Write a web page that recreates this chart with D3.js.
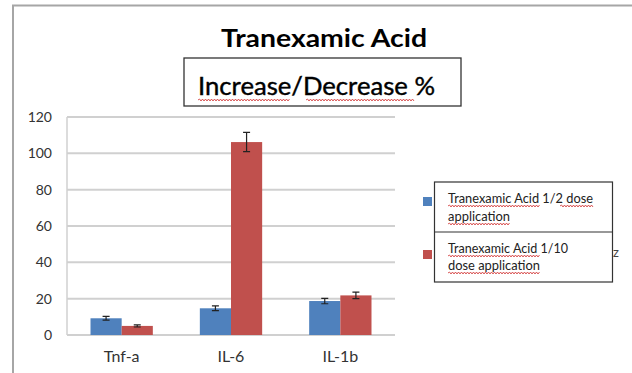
<!DOCTYPE html>
<html><head><meta charset="utf-8">
<script src="https://cdn.jsdelivr.net/npm/d3@7/dist/d3.min.js"></script>
<style>body{margin:0;background:#fff;}svg{display:block;}</style>
</head><body>
<svg id="c" width="632" height="373"></svg>
<script>
const categories = ["Tnf-a", "IL-6", "IL-1b"];
const seriesNames = ["Tranexamic Acid 1/2 dose application", "Tranexamic Acid 1/10 dose application"];
const halfDose = [9.2, 14.7, 18.7];
const tenthDose = [5.0, 106.2, 21.8];
const halfDoseErr = [1.0, 1.3, 1.5];
const tenthDoseErr = [0.6, 5.3, 1.8];
const yTicks = [0, 20, 40, 60, 80, 100, 120];
const legendLines = [["Tranexamic Acid 1/2 dose", "application"], ["Tranexamic Acid 1/10", "dose application"]];
const colors = ["#4F81BD", "#C0504D"];

const svg = d3.select("#c");
const font = "Lato, 'Liberation Sans', sans-serif";

// outer frame
svg.append("path").attr("d", "M13,373 V5.5 H632").attr("fill", "none").attr("stroke", "#a6a6a6").attr("stroke-width", 2);

const L = 67, R = 395, T = 117, B = 335;
const y = d3.scaleLinear().domain([0, 120]).range([B, T]);
const x0 = d3.scaleBand().domain(categories).range([L, R]);
const x1 = d3.scaleBand().domain([0, 1]).range([x0.bandwidth() * 0.215, x0.bandwidth() * 0.785]);

// gridlines
svg.append("g").selectAll("line").data(yTicks).join("line")
  .attr("x1", L).attr("x2", R).attr("y1", d => y(d)).attr("y2", d => y(d))
  .attr("stroke", "#d0d0d0").attr("stroke-width", 2);
// left axis line
svg.append("line").attr("x1", L).attr("x2", L).attr("y1", T).attr("y2", B).attr("stroke", "#d0d0d0").attr("stroke-width", 1.5);

// y axis labels
const yAxis = d3.axisLeft(y).tickValues(yTicks).tickSize(0).tickPadding(15);
const gy = svg.append("g").attr("transform", `translate(${L},0)`).call(yAxis);
gy.select(".domain").remove();
gy.selectAll("text").attr("font-family", font).attr("font-size", 14).attr("fill", "#333");

// x axis labels
const xAxis = d3.axisBottom(x0).tickSize(0).tickPadding(16);
const gx = svg.append("g").attr("transform", `translate(0,${B})`).call(xAxis);
gx.select(".domain").remove();
gx.selectAll("text").attr("font-family", font).attr("font-size", 16).attr("fill", "#333");

// bars
const data = [];
categories.forEach((c, i) => {
  data.push({c, s: 0, v: halfDose[i], e: halfDoseErr[i]});
  data.push({c, s: 1, v: tenthDose[i], e: tenthDoseErr[i]});
});
svg.append("g").selectAll("rect").data(data).join("rect")
  .attr("x", d => x0(d.c) + x1(d.s)).attr("width", x1.bandwidth())
  .attr("y", d => y(d.v)).attr("height", d => B - y(d.v))
  .attr("fill", d => colors[d.s]);

// error bars
const eg = svg.append("g").attr("stroke", "#222").attr("stroke-width", 1.2).attr("fill", "none");
eg.selectAll("path").data(data).join("path")
  .attr("d", d => {
    const cx = x0(d.c) + x1(d.s) + x1.bandwidth() / 2;
    const t = y(d.v + d.e), b = y(d.v - d.e), w = 3.5;
    return `M${cx - w},${t}H${cx + w}M${cx},${t}V${b}M${cx - w},${b}H${cx + w}`;
  });

// wavy underline helper
function wavy(x1p, x2p, yp) {
  let d = `M${x1p},${yp}`;
  let up = true;
  for (let xx = x1p + 1.5; xx <= x2p; xx += 1.5) { d += `L${xx},${yp + (up ? -1 : 1)}`; up = !up; }
  svg.append("path").attr("d", d).attr("fill", "none").attr("stroke", "#d03030").attr("stroke-width", 0.8);
}

// title
svg.append("text").attr("x", 221).attr("y", 47).attr("font-family", font).attr("font-weight", "bold")
  .attr("font-size", 25).attr("fill", "#000").attr("textLength", 206).attr("lengthAdjust", "spacingAndGlyphs")
  .text("Tranexamic Acid");
// subtitle box
svg.append("rect").attr("x", 184).attr("y", 58).attr("width", 277).attr("height", 48)
  .attr("fill", "#fff").attr("stroke", "#333").attr("stroke-width", 1.3);
svg.append("text").attr("x", 198).attr("y", 95).attr("font-family", font)
  .attr("font-size", 25).attr("fill", "#000").attr("stroke", "#000").attr("stroke-width", 0.4)
  .attr("textLength", 237).attr("lengthAdjust", "spacingAndGlyphs")
  .text("Increase/Decrease %");
wavy(198, 290, 100);
wavy(306, 415, 100);

// legend
const lg = svg.append("g");
lg.selectAll("rect.sw").data(seriesNames).join("rect").attr("class", "sw")
  .attr("x", 423).attr("y", (d, i) => 197 + i * 53).attr("width", 9).attr("height", 9)
  .attr("fill", (d, i) => colors[i]);
lg.append("rect").attr("x", 434.5).attr("y", 182).attr("width", 178).attr("height", 100)
  .attr("fill", "#fff").attr("stroke", "#333").attr("stroke-width", 1.2);
lg.append("line").attr("x1", 434.5).attr("x2", 612.5).attr("y1", 232).attr("y2", 232).attr("stroke", "#333").attr("stroke-width", 1.2);
const baselines = [[203, 221], [253, 270]];
const widths = [[145, 62], [120, 92]];
legendLines.forEach((lines, i) => {
  lines.forEach((t, j) => {
    lg.append("text").attr("x", 448).attr("y", baselines[i][j]).attr("font-family", font)
      .attr("font-size", 13.5).attr("fill", "#222").attr("textLength", widths[i][j]).attr("lengthAdjust", "spacingAndGlyphs").text(t);
  });
});
wavy(448, 540, 206);
wavy(560, 593, 206);
wavy(448, 510, 224);
wavy(448, 540, 256);
wavy(448, 540, 273);
svg.append("text").attr("x", 613).attr("y", 257).attr("font-family", font).attr("font-size", 13).attr("fill", "#444").text("z");
</script>
</body></html>
